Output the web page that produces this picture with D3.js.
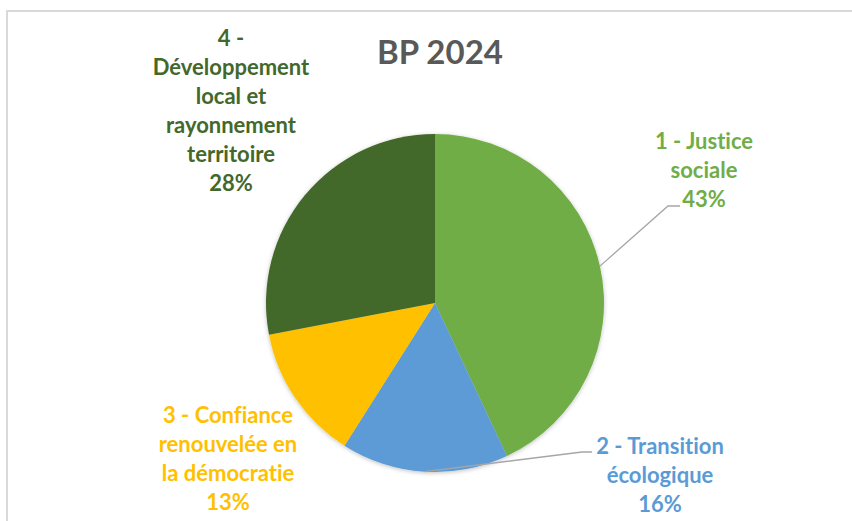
<!DOCTYPE html>
<html>
<head>
<meta charset="utf-8">
<script src="https://cdn.jsdelivr.net/npm/d3@7"></script>
<style>
  body { margin: 0; background: #fff; }
  text { font-family: Lato, "Open Sans", sans-serif; font-weight: bold; font-variant-ligatures: none; }
</style>
</head>
<body>
<div id="vis"></div>
<script>
// data
const title = 'BP 2024'
const categories = ['1 - Justice sociale', '2 - Transition écologique', '3 - Confiance renouvelée en la démocratie', '4 - Développement local et rayonnement territoire']
const values = [43, 16, 13, 28]
const labelLines = [
    ['1 - Justice', 'sociale'],
    ['2 - Transition', 'écologique'],
    ['3 - Confiance', 'renouvelée en', 'la démocratie'],
    ['4 -', 'Développement', 'local et', 'rayonnement', 'territoire']
]
const colors = ['#70ad47', '#5b9bd5', '#ffc000', '#43682b']

const width = 852, height = 521
const center = {x: 435, y: 303}
const radius = 169
const lineHeight = 29
const fontSize = 22

// where each label block sits (center x, baseline of first line), and leader elbow
const labelPos = [
    {x: 704, y: 149, leader: [[668, 206], [680, 206]]},
    {x: 660, y: 454, leader: [[582, 452], [592, 452]]},
    {x: 228, y: 423, leader: null},
    {x: 231, y: 46, leader: null}
]

let svg = d3.select('#vis')
    .append('svg')
    .attr('width', width)
    .attr('height', height)

// frame of the chart area
svg.append('path')
    .attr('d', `M7,${height} V11 H${width}`)
    .attr('fill', 'none')
    .attr('stroke', '#d9d9d9')
    .attr('stroke-width', 2)

svg.append('text')
    .attr('x', 440)
    .attr('y', 64)
    .attr('text-anchor', 'middle')
    .attr('font-size', '33px')
    .attr('fill', '#595959')
    .text(title)

let defs = svg.append('defs')
let shadow = defs.append('filter').attr('id', 'shadow')
    .attr('x', '-10%').attr('y', '-10%').attr('width', '120%').attr('height', '120%')
shadow.append('feDropShadow')
    .attr('dx', 0).attr('dy', 1).attr('stdDeviation', 2)
    .attr('flood-color', '#000').attr('flood-opacity', 0.25)

let pie = d3.pie().sort(null).value(d => d)
let arcs = pie(values)
let arc = d3.arc().innerRadius(0).outerRadius(radius)

let pieGroup = svg.append('g')
    .attr('transform', `translate(${center.x},${center.y})`)
    .attr('filter', 'url(#shadow)')

pieGroup.selectAll('path')
    .data(arcs)
    .enter()
    .append('path')
        .attr('d', arc)
        .attr('fill', (d, i) => colors[i])

// leader lines from the slice edge at mid angle
arcs.forEach((d, i) => {
    let lp = labelPos[i]
    if (!lp.leader) return
    let mid = (d.startAngle + d.endAngle) / 2
    let start = [center.x + radius * Math.sin(mid), center.y - radius * Math.cos(mid)]
    svg.append('polyline')
        .attr('points', [start].concat(lp.leader).map(p => p.join(',')).join(' '))
        .attr('fill', 'none')
        .attr('stroke', '#a6a6a6')
        .attr('stroke-width', 1.3)
})

// labels
arcs.forEach((d, i) => {
    let lp = labelPos[i]
    let lines = labelLines[i].concat([Math.round(values[i]) + '%'])
    let t = svg.append('text')
        .attr('class', 'small-text')
        .attr('text-anchor', 'middle')
        .attr('font-size', fontSize + 'px')
        .attr('fill', colors[i])
    lines.forEach((l, j) => {
        t.append('tspan')
            .attr('x', lp.x)
            .attr('y', lp.y + j * lineHeight)
            .text(l)
    })
})
</script>
</body>
</html>
